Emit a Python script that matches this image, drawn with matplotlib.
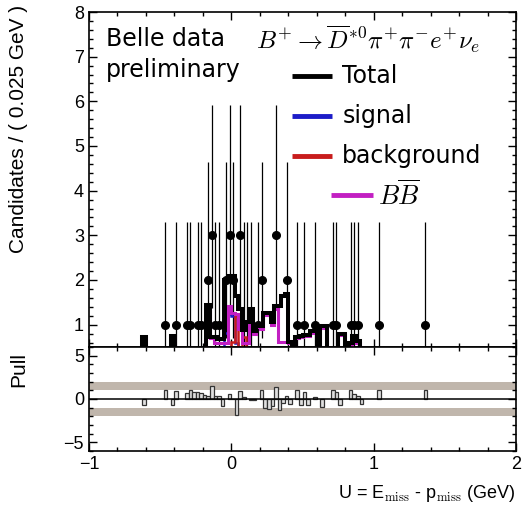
import numpy as np
import matplotlib
matplotlib.use("Agg")
import matplotlib.pyplot as plt
from matplotlib.ticker import MultipleLocator

plt.rcParams["mathtext.fontset"] = "cm"
plt.rcParams["font.family"] = ["Liberation Sans", "DejaVu Sans"]

# Binning: U from -1 to 2 GeV in 0.025 GeV bins
edges = np.linspace(-1.0, 2.0, 121)

# Data points (bin centre, candidates)
data_x = [-0.4625, -0.3875, -0.3125, -0.2875, -0.2375, -0.2125, -0.1625, -0.1375,
          -0.1125, -0.0875, -0.0375, -0.0125, 0.0125, 0.0625, 0.0875, 0.1125,
          0.1375, 0.1875, 0.2125, 0.3125, 0.3875, 0.4625, 0.5125, 0.5875,
          0.7125, 0.7375, 0.8375, 0.8625, 0.8875, 1.0375, 1.3625]
data_n = [1, 1, 1, 1, 1, 1, 2, 3,
          1, 1, 2, 3, 2, 3, 1, 1,
          1, 1, 2, 3, 2, 1, 1, 1,
          1, 1, 1, 1, 1, 1, 1]
# Poisson error bar sizes: count -> (down, up)
poisson_err = {1: (0.83, 2.30), 2: (1.29, 2.64), 3: (1.63, 2.92)}

# Fit components (bin centre, height)
total_x = [-0.6125, -0.4125, -0.1625, -0.1375, -0.1125, -0.0875, -0.0625, -0.0375,
           -0.0125, 0.0125, 0.0375, 0.0625, 0.0875, 0.1125, 0.1375, 0.1625,
           0.1875, 0.2125, 0.2375, 0.2625, 0.2875, 0.3125, 0.3375, 0.3625,
           0.3875, 0.4125, 0.4625, 0.4875, 0.5125, 0.5375, 0.5625, 0.5875,
           0.6375, 0.6625, 0.7625, 0.7875, 0.8375, 0.8625, 0.8875]
total_y = [0.73, 0.75, 1.43, 0.73, 0.73, 0.68, 0.68, 2.0,
           2.1, 2.08, 1.64, 1.34, 0.89, 1.05, 1.34, 0.85,
           1.0, 0.96, 1.27, 1.27, 1.05, 1.41, 1.42, 1.64,
           1.68, 0.61, 0.73, 0.75, 0.77, 0.77, 0.85, 0.85,
           0.96, 0.96, 0.8, 0.8, 0.59, 0.75, 0.64]

bb_x = total_x
bb_y = [0.70, 0.72, 1.38, 0.70, 0.60, 0.58, 0.58, 0.60,
        1.42, 1.25, 1.23, 0.90, 0.60, 0.58, 1.30, 0.78,
        0.95, 0.90, 1.22, 1.22, 1.00, 1.36, 0.62, 0.62,
        0.62, 0.58, 0.70, 0.72, 0.74, 0.74, 0.82, 0.82,
        0.93, 0.93, 0.77, 0.77, 0.55, 0.72, 0.60]

sig_x = [-0.0375, -0.0125, 0.0125, 0.0375]
sig_y = [0.82, 1.23, 1.20, 0.60]

bkg_x = [0.0125, 0.0375, 0.0875]
bkg_y = [0.62, 1.20, 0.73]

# Pull per bin
pull_x = [-0.6125, -0.4625, -0.4125, -0.3875, -0.3125, -0.2875, -0.2625, -0.2375,
          -0.2125, -0.1875, -0.1625, -0.1375, -0.1125, -0.0875, -0.0625, -0.0125,
          0.0125, 0.0375, 0.0625, 0.0875, 0.1375, 0.1625, 0.2125, 0.2375,
          0.2625, 0.2875, 0.3125, 0.3375, 0.3625, 0.3875, 0.4125, 0.4625,
          0.4875, 0.5125, 0.5375, 0.5875, 0.6375, 0.7125, 0.7375, 0.7625,
          0.8375, 0.8625, 0.8875, 0.9125, 1.0375, 1.3625]
pull_v = [-0.64, 1.0, -0.64, 0.9, 0.7, 1.05, 0.85, 0.8,
          0.65, 0.45, 0.4, 1.45, 0.4, 0.35, -0.85, 0.55,
          -0.05, -1.85, 0.9, 0.25, -0.15, -0.1, 0.98, -1.0,
          -1.2, -0.8, 1.4, -1.25, -0.5, 0.3, -0.6, 0.98,
          -0.64, 0.75, -0.64, 0.2, -0.9, 0.98, 0.75, -0.64,
          0.98, 0.6, 0.4, -0.6, 0.98, 0.98]


def to_bins(centres, values):
    h = np.zeros(len(edges) - 1)
    idx = np.floor((np.array(centres) + 1.0) / 0.025).astype(int)
    h[idx] = values
    return h


fig = plt.figure(figsize=(5.23, 5.11), dpi=100)
ax = fig.add_axes([0.170, 0.321, 0.817, 0.6555])
axp = fig.add_axes([0.170, 0.1174, 0.817, 0.2036], sharex=ax)

# data
yerr = np.array([poisson_err[n] for n in data_n]).T
ax.errorbar(data_x, data_n, yerr=yerr, fmt="o", color="black", ms=5.5,
            elinewidth=0.9, capsize=0, zorder=2)

# fit components
ax.stairs(to_bins(sig_x, sig_y), edges, color="#1c1cc8", lw=1.8, zorder=3)
ax.stairs(to_bins(bkg_x, bkg_y), edges, color="#c81c1c", lw=1.8, zorder=3)
ax.stairs(to_bins(bb_x, bb_y), edges, color="#c21fc2", lw=2.2, zorder=4)
ax.stairs(to_bins(total_x, total_y), edges, color="black", lw=2.9, zorder=5)

ax.set_xlim(-1, 2)
ax.set_ylim(0.5, 8)
ax.yaxis.set_major_locator(MultipleLocator(1))
ax.yaxis.set_minor_locator(MultipleLocator(0.2))
ax.xaxis.set_major_locator(MultipleLocator(1))
ax.xaxis.set_minor_locator(MultipleLocator(0.2))
ax.tick_params(labelbottom=False)

for a in (ax, axp):
    a.tick_params(which="both", direction="in", top=True, right=True,
                  labelsize=13, width=1)
    a.tick_params(which="major", length=6)
    a.tick_params(which="minor", length=3)
    for s in a.spines.values():
        s.set_linewidth(1.2)

# text and legend
ax.text(0.04, 0.92, "Belle data", transform=ax.transAxes, fontsize=17,
        family="DejaVu Sans", va="center", ha="left")
ax.text(0.04, 0.828, "preliminary", transform=ax.transAxes, fontsize=17,
        family="DejaVu Sans", va="center", ha="left")
ax.text(0.391, 0.92, r"$B^{+}\rightarrow \overline{D}^{*0}\pi^{+}\pi^{-}e^{+}\nu_{e}$",
        transform=ax.transAxes, fontsize=18, va="center", ha="left")

leg = [("Total", "black", 0.475, 0.569, 0.593, 0.809, "DejaVu Sans"),
       ("signal", "#1c1cc8", 0.475, 0.569, 0.593, 0.690, "DejaVu Sans"),
       ("background", "#c81c1c", 0.475, 0.569, 0.593, 0.570, "DejaVu Sans"),
       (r"$B\overline{B}$", "#c21fc2", 0.567, 0.665, 0.677, 0.454, None)]
for label, col, x0, x1, xt, yy, fam in leg:
    ax.plot([x0, x1], [yy, yy], color=col, lw=3.5, transform=ax.transAxes,
            solid_capstyle="butt", zorder=6)
    kw = {"family": fam, "fontsize": 17} if fam else {"fontsize": 19}
    ax.text(xt, yy, label, transform=ax.transAxes,
            va="center", ha="left", **kw)

# pull panel
axp.axhspan(1, 2, color="#c0b6ac", lw=0, zorder=0)
axp.axhspan(-2, -1, color="#c0b6ac", lw=0, zorder=0)
axp.bar(pull_x, pull_v, width=0.025, color="#e0e0e0", edgecolor="#333333",
        lw=0.9, zorder=2)
axp.axhline(0, color="black", lw=1.1, zorder=3)
axp.set_ylim(-6, 6)
axp.yaxis.set_major_locator(MultipleLocator(5))
axp.yaxis.set_minor_locator(MultipleLocator(1))
axp.set_xlim(-1, 2)

fig.text(0.035, 0.99, "Candidates / ( 0.025 GeV )", rotation=90, ha="center",
         va="top", fontsize=15)
fig.text(0.035, 0.276, "Pull", rotation=90, ha="center", va="center", fontsize=15)
fig.text(0.985, 0.035, r"U = E$_{\rm miss}$ - p$_{\rm miss}$ (GeV)", ha="right",
         va="center", fontsize=13)

fig.savefig("out.png", dpi=100)
